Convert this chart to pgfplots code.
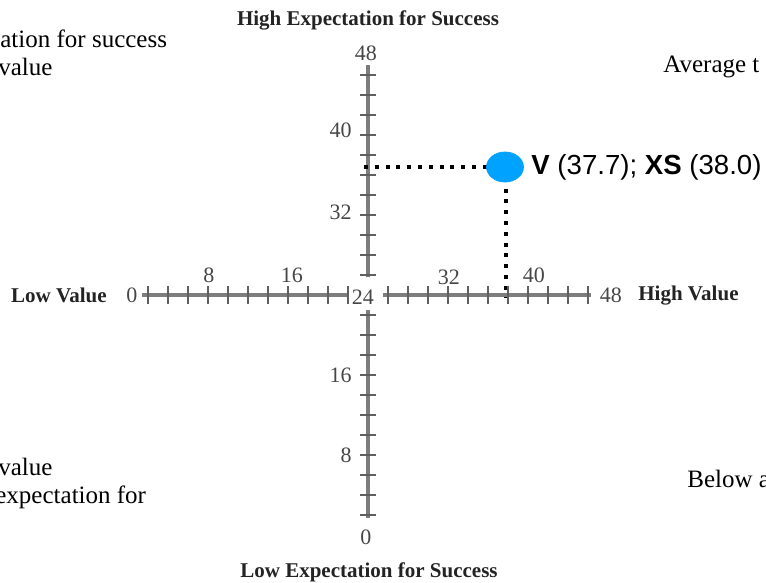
\documentclass[border=0pt]{standalone}
\usepackage{fontspec}
\setmainfont{Liberation Serif}
\newfontfamily\arial{Liberation Sans}
\usepackage{pgfplots}
\pgfplotsset{compat=1.18}

\definecolor{axgray}{RGB}{125,125,125}
\definecolor{tickgray}{RGB}{95,95,95}
\definecolor{lblgray}{RGB}{70,70,70}
\definecolor{ttlgray}{RGB}{35,35,35}
\definecolor{dotblue}{RGB}{0,162,255}

\tikzset{
  tl/.style={font=\fontsize{11bp}{13bp}\selectfont, text=lblgray, inner sep=0pt},
  ttl/.style={font=\fontsize{10.5bp}{12bp}\selectfont\bfseries, text=ttlgray, inner sep=0pt},
  body/.style={font=\fontsize{12.5bp}{14bp}\selectfont, inner sep=0pt, anchor=base west},
}

\begin{document}
\begin{tikzpicture}
\useasboundingbox (0,0) rectangle (383bp,-291.5bp);
\clip (0,0) rectangle (383bp,-291.5bp);
\begin{axis}[
  at={(64bp,-267.5bp)}, anchor=south west,
  width=240bp, height=240bp, scale only axis,
  hide axis,
  xmin=0, xmax=48, ymin=0, ymax=48,
  clip=false,
]
% axis segments, broken round the centre label 24
\addplot[axgray, line width=1.6bp] coordinates {(1.4,24) (22,24)};
\addplot[axgray, line width=1.6bp] coordinates {(25.5,24) (46.3,24)};
\addplot[axgray, line width=1.6bp] coordinates {(24,25.8) (24,47)};
\addplot[axgray, line width=1.6bp] coordinates {(24,1.7) (24,22.5)};

% tick marks every 2 units
\addplot[only marks, mark=|, mark size=4.5bp, mark options={line width=1.2bp, draw=tickgray}] coordinates {
  (2,24) (4,24) (6,24) (8,24) (10,24) (12,24) (14,24) (16,24) (18,24) (20,24) (22,24)
  (26,24) (28,24) (30,24) (32,24) (34,24) (36,24) (38,24) (40,24) (42,24) (44,24) (46,24)
};
\addplot[only marks, mark=-, mark size=4bp, mark options={line width=1.2bp, draw=tickgray}] coordinates {
  (24,2) (24,4) (24,6) (24,8) (24,10) (24,12) (24,14) (24,16) (24,18) (24,20) (24,22)
  (24,26) (24,28) (24,30) (24,32) (24,34) (24,36) (24,38) (24,40) (24,42) (24,44) (24,46)
};

% tick labels
\node[tl] at (axis cs:8.1,26.0) {8};
\node[tl] at (axis cs:16.4,26.0) {16};
\node[tl] at (axis cs:32.1,25.8) {32};
\node[tl] at (axis cs:40.6,26.0) {40};
\node[tl] at (axis cs:0.4,24) {0};
\node[tl] at (axis cs:23.5,23.8) {24};
\node[tl] at (axis cs:48.3,24) {48};
\node[tl, anchor=east] at (axis cs:22.4,40.5) {40};
\node[tl, anchor=east] at (axis cs:22.4,32.3) {32};
\node[tl, anchor=east] at (axis cs:22.4,16.0) {16};
\node[tl, anchor=east] at (axis cs:22.4,8.0) {8};
\node[tl] at (axis cs:23.8,48.2) {48};
\node[tl] at (axis cs:23.8,-0.2) {0};

% axis titles
\node[ttl] at (axis cs:24,51.5) {High Expectation for Success};
\node[ttl] at (axis cs:24.1,-3.7) {Low Expectation for Success};
\node[ttl, anchor=east] at (axis cs:-2.1,24) {Low Value};
\node[ttl, anchor=west] at (axis cs:51,23.9) {High Value};

% quadrant texts, cut by the picture edge as in the reference
\node[body] at (axis cs:-12.8,48.8) {ation for success};
\node[body] at (axis cs:-13.0,46.0) {value};
\node[body] at (axis cs:-13.0,6.0) {value};
\node[body] at (axis cs:-13.3,3.2) {expectation for};
\node[body] at (axis cs:53.5,46.3) {Average t};
\node[body] at (axis cs:55.9,4.8) {Below a};

% the score and its guide lines
\addplot[black, line width=2bp, dash pattern=on 2bp off 3.4bp] coordinates {(23.6,36.8) (37.7,36.8)};
\addplot[black, line width=2bp, dash pattern=on 2bp off 3.4bp] coordinates {(37.8,36.8) (37.8,23.8)};
\addplot[only marks, mark=*, mark size=7.5bp, mark options={fill=dotblue, draw=dotblue, xscale=1.23}] coordinates {(37.7,36.8)};
\node[anchor=west, inner sep=0pt, font=\arial\fontsize{13.8bp}{16bp}\selectfont] at (axis cs:40.3,36.8)
  {{\bfseries V} (37.7); {\bfseries XS} (38.0)};
\end{axis}
\end{tikzpicture}
\end{document}
